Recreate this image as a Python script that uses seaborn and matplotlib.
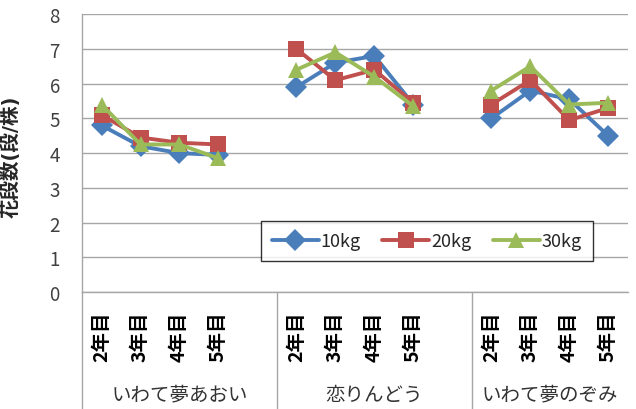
import numpy as np
import pandas as pd
import matplotlib
matplotlib.use("Agg")
import matplotlib.pyplot as plt
import seaborn as sns

varieties = ["いわて夢あおい", "恋りんどう", "いわて夢のぞみ"]
years = ["2年目", "3年目", "4年目", "5年目"]
series = ["10kg", "20kg", "30kg"]
# values per series: variety-major, year-minor
kg10 = [4.8, 4.2, 4.0, 3.95, 5.9, 6.6, 6.8, 5.4, 5.0, 5.8, 5.55, 4.5]
kg20 = [5.1, 4.45, 4.3, 4.25, 7.0, 6.1, 6.4, 5.45, 5.4, 6.1, 4.95, 5.3]
kg30 = [5.4, 4.25, 4.25, 3.85, 6.4, 6.9, 6.2, 5.35, 5.8, 6.5, 5.4, 5.45]

colors = ["#4A7EBB", "#C0504D", "#9BBB59"]
grey = "#A6A6A6"

# one empty slot after each variety group, like the Excel sheet
slot = len(years) + 1
rows = []
for name, vals in zip(series, [kg10, kg20, kg30]):
    for g, var in enumerate(varieties):
        for j, yr in enumerate(years):
            rows.append({"series": name, "variety": var, "year": yr,
                         "pos": g * slot + j, "value": vals[g * len(years) + j]})
df = pd.DataFrame(rows)

sns.set_style("white")
plt.rcParams["font.family"] = ["Noto Sans CJK JP", "DejaVu Sans"]

fig = plt.figure(figsize=(6.36, 4.10), dpi=100)
ax = fig.add_axes([0.129, 0.285, 0.858, 0.678])

sns.lineplot(data=df, x="pos", y="value", hue="series", style="series",
             units="variety", estimator=None, palette=colors,
             markers=["D", "s", "^"], dashes=False, linewidth=2.8,
             markersize=11, markeredgewidth=0, ax=ax)

n = len(varieties) * slot - 1
ax.set_xlim(-0.5, n - 0.5)
ax.set_ylim(0, 8)
ax.set_yticks(range(0, 9))
ax.yaxis.grid(True, color=grey, lw=1)
ax.set_axisbelow(True)

ticks = df.drop_duplicates("pos").sort_values("pos")
ax.set_xticks(ticks["pos"])
ax.set_xticklabels(ticks["year"], rotation=90, fontsize=14, fontweight="bold",
                   color="black")
ax.tick_params(axis="x", length=0, pad=13)
ax.tick_params(axis="y", length=0, pad=16, labelsize=13.5, labelcolor="#404040")

for s in ["top", "right"]:
    ax.spines[s].set_visible(False)
for s in ["left", "bottom"]:
    ax.spines[s].set_color(grey)
    ax.spines[s].set_linewidth(1)

# group separators under the axis
for b in np.arange(slot - 0.5, n, slot):
    ax.axvline(b, ymin=-0.42, ymax=0, clip_on=False, color=grey, lw=1)
ax.axvline(-0.5, ymin=-0.42, ymax=0, clip_on=False, color=grey, lw=1)

for g, var in enumerate(varieties):
    lo = g * slot - 0.5
    hi = min(lo + slot, n - 0.5)
    ax.text((lo + hi) / 2, -0.367, var, transform=ax.get_xaxis_transform(),
            ha="center", va="center", fontsize=14, color="#333333")

ax.set_xlabel("")
ax.set_ylabel("花段数(段/株)", fontsize=14, fontweight="bold",
              family=["DejaVu Sans", "Noto Sans CJK JP"])
ax.yaxis.set_label_coords(-0.112, 0.49)

sns.move_legend(ax, loc="center", bbox_to_anchor=(0.632, 0.183), ncol=3,
                title=None, frameon=True, fancybox=False, fontsize=13,
                handlelength=2.6, handletextpad=0.1, columnspacing=1.2,
                borderpad=0.6)
leg = ax.get_legend()
leg.get_frame().set_edgecolor("black")
leg.get_frame().set_linewidth(1)

plt.savefig("out.png", dpi=100)
